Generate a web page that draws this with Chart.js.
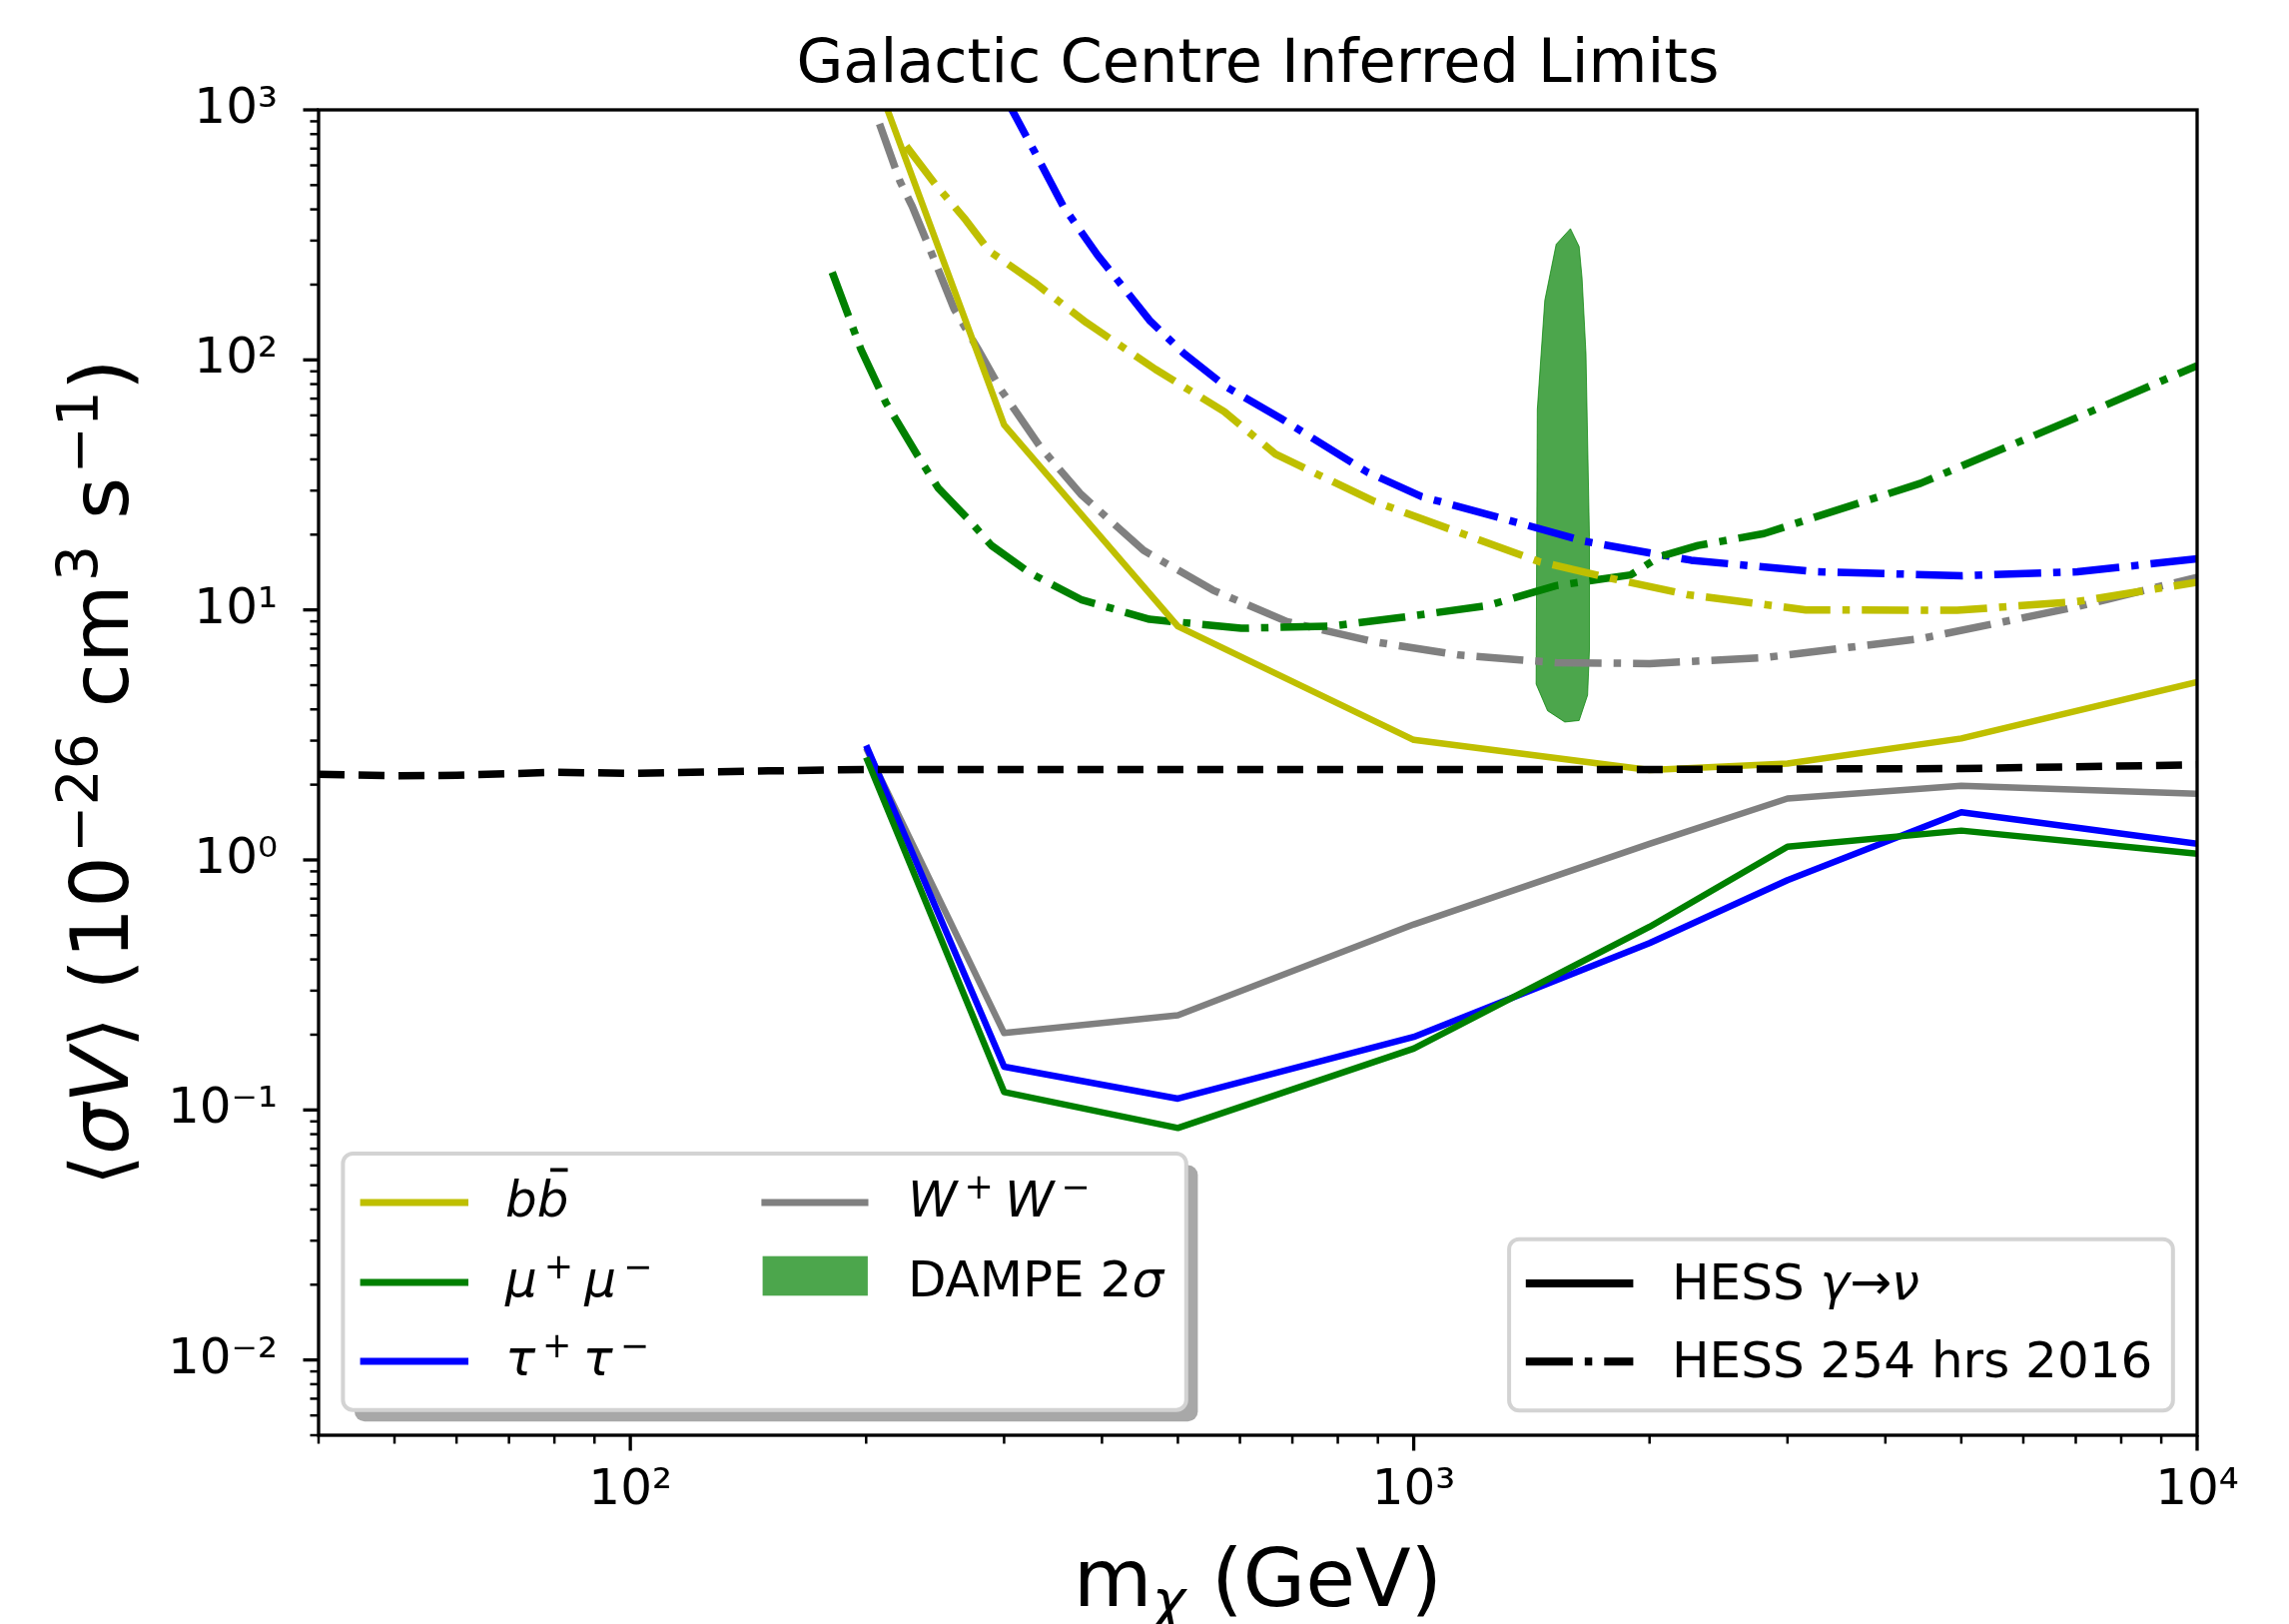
<!DOCTYPE html>
<html>
<head>
<meta charset="utf-8">
<title>Galactic Centre Inferred Limits</title>
<script src="https://cdn.jsdelivr.net/npm/chart.js@4.4.0/dist/chart.umd.min.js"></script>
<style>
  html, body { margin: 0; padding: 0; background: #fff; }
  #wrap { width: 2292px; height: 1626px; }
</style>
</head>
<body>
<div id="wrap"><canvas id="limits" width="2292" height="1626" style="width:2292px;height:1626px"></canvas></div>
<script>
const FONT = '"DejaVu Sans", sans-serif';

// HESS gamma -> nu inferred limits (solid lines)
const massHess = [200, 300, 500, 1000, 2000, 3000, 5000, 10000];
const bbHess = [1700, 55, 8.6, 3.02, 2.29, 2.43, 3.06, 5.15];
const mumuHess = [2.57, 0.118, 0.0847, 0.176, 0.54, 1.13, 1.31, 1.06];
const tautauHess = [2.87, 0.149, 0.111, 0.196, 0.465, 0.83, 1.55, 1.16];
const wwHess = [2.8, 0.203, 0.239, 0.552, 1.16, 1.76, 1.98, 1.84];

// HESS 254 hrs 2016 (dash-dot lines)
const bb2016Mass = [225, 245, 268, 287, 328, 382, 468, 573, 666, 887, 1006, 1445, 1799, 2239, 3167, 4940, 7030, 10000];
const bb2016 = [716, 505, 363, 273, 204, 141, 91.7, 62.1, 42, 27.3, 23.6, 15.6, 13.3, 11.5, 10.0, 9.96, 10.8, 12.9];

const mumu2016Mass = [181, 197, 212, 233, 247, 273, 289, 323, 376, 460, 602, 788, 957, 1242, 1520, 1892, 2058, 2307, 2800, 4437, 7032, 10000];
const mumu2016 = [224, 110, 67.3, 41.1, 30.8, 22.2, 18.1, 14.1, 11.0, 9.17, 8.44, 8.62, 9.3, 10.4, 12.5, 13.8, 16.3, 18.1, 20.2, 32.1, 58.9, 94.8];

const tautau2016Mass = [300, 311, 331, 357, 395, 430, 460, 509, 577, 677, 872, 1023, 1306, 1654, 2259, 3265, 5017, 7030, 10000];
const tautau2016 = [1145, 929, 646, 411, 262, 188, 144, 106, 77.8, 58.3, 35.6, 28.4, 23.1, 18.8, 15.8, 14.2, 13.7, 14.2, 16.0];

const ww2016Mass = [208, 221, 229, 243, 259, 278, 297, 334, 376, 452, 554, 689, 887, 1142, 1520, 2000, 2800, 4437, 7030, 10000];
const ww2016 = [880, 516, 411, 262, 160, 110, 76.2, 44.7, 29.0, 17.3, 12.0, 8.98, 7.47, 6.6, 6.15, 6.1, 6.44, 7.67, 10.3, 13.5];

// thermal relic cross-section (black dashed)
const relicMass = [40, 50, 60, 80, 100, 150, 200, 500, 1000, 2000, 5000, 10000];
const relic = [2.2, 2.17, 2.18, 2.24, 2.22, 2.27, 2.3, 2.3, 2.3, 2.3, 2.32, 2.4];

// DAMPE 2 sigma region (closed outline)
const dampeMass = [1585, 1520, 1470, 1438, 1433, 1482, 1559, 1626, 1667, 1676, 1676, 1659, 1640, 1626, 1585];
const dampe = [335, 290, 173, 63.3, 5.05, 3.95, 3.56, 3.61, 4.56, 6.9, 19.6, 106, 213, 284, 335];

// axis ticks
const xMajor = [100, 1000, 10000];
const yMajor = [0.01, 0.1, 1, 10, 100, 1000];
const xTicks = [40, 50, 60, 70, 80, 90];
[100, 1000].forEach(d => { for (let k = 1; k < 10; k++) xTicks.push(k * d); });
xTicks.push(10000);
const yTicks = [0.005, 0.006, 0.007, 0.008, 0.009];
[0.01, 0.1, 1, 10, 100].forEach(d => { for (let k = 1; k < 10; k++) yTicks.push(k * d); });
yTicks.push(1000);

const YELLOW = '#bfbf00', GREEN = '#008000', BLUE = '#0000ff', GREY = '#808080';
const DASHDOT = [47, 12, 7.5, 12];
const DASHED = [26, 14];

function pts(xs, ys) { return xs.map((m, i) => ({x: m, y: ys[i]})); }
function curve(label, xs, ys, color, dash, width, order) {
  return {
    label, data: pts(xs, ys), showLine: true, borderColor: color, borderWidth: width,
    borderDash: dash, pointRadius: 0, fill: false, tension: 0,
    borderJoinStyle: 'round', order
  };
}

const isMajor = v => Math.abs(Math.log10(v) - Math.round(Math.log10(v))) < 1e-6;
const SUP = {'-': '\u207B', '0': '\u2070', '1': '\u00B9', '2': '\u00B2', '3': '\u00B3', '4': '\u2074'};
const tickLabel = v => isMajor(v) ? '10' + String(Math.round(Math.log10(v))).split('').map(c => SUP[c]).join('') : '';

function roundRect(ctx, x, y, w, h, r) {
  ctx.beginPath();
  ctx.moveTo(x + r, y);
  ctx.arcTo(x + w, y, x + w, y + h, r);
  ctx.arcTo(x + w, y + h, x, y + h, r);
  ctx.arcTo(x, y + h, x, y, r);
  ctx.arcTo(x, y, x + w, y, r);
  ctx.closePath();
}

// mixed text with italic / super / subscripts, drawn at baseline y
function drawRich(ctx, parts, x, y, size, align) {
  const items = parts.map(p => {
    const s = (p.sup || p.sub) ? size * 0.7 : size;
    const font = (p.it ? 'italic ' : '') + s + 'px ' + FONT;
    ctx.font = font;
    const gap = p.sup ? (p.gap || 0) * size : 0;
    return {p, font, gap, w: ctx.measureText(p.t).width + gap, dy: p.sup ? -0.37 * size : (p.sub ? 0.17 * size : 0)};
  });
  const total = items.reduce((a, b) => a + b.w, 0);
  let cx = align === 'center' ? x - total / 2 : x;
  ctx.textAlign = 'left';
  ctx.textBaseline = 'alphabetic';
  items.forEach(it => {
    ctx.font = it.font;
    ctx.fillText(it.p.t, cx + it.gap, y + it.dy);
    if (it.p.bar) ctx.fillRect(cx + it.w * 0.42, y - 0.97 * size, it.w * 0.55, size * 0.075);
    cx += it.w;
  });
  return total;
}

function handle(ctx, x0, x1, y, color, dash, width) {
  ctx.save();
  ctx.strokeStyle = color;
  ctx.lineWidth = width;
  ctx.lineCap = 'butt';
  ctx.setLineDash(dash);
  ctx.beginPath();
  ctx.moveTo(x0, y);
  ctx.lineTo(x1, y);
  ctx.stroke();
  ctx.restore();
}

const pair = (sym) => [
  {t: sym, it: 1}, {t: '+', sup: 1, gap: 0.14}, {t: ' ', sup: 1},
  {t: sym, it: 1}, {t: '\u2212', sup: 1, gap: 0.14}
];

const decorations = {
  id: 'decorations',
  afterDraw(chart) {
    const {ctx, chartArea: a, scales: {x, y}} = chart;
    ctx.save();
    ctx.fillStyle = '#000';
    ctx.strokeStyle = '#000';

    // frame
    ctx.lineWidth = 3.3;
    ctx.strokeRect(a.left, a.top, a.right - a.left, a.bottom - a.top);

    // outward tick marks
    xTicks.forEach(v => {
      const px = x.getPixelForValue(v), major = isMajor(v);
      ctx.lineWidth = major ? 3.3 : 2.5;
      ctx.beginPath();
      ctx.moveTo(px, a.bottom);
      ctx.lineTo(px, a.bottom + (major ? 15.5 : 8.5));
      ctx.stroke();
    });
    yTicks.forEach(v => {
      const py = y.getPixelForValue(v), major = isMajor(v);
      ctx.lineWidth = major ? 3.3 : 2.5;
      ctx.beginPath();
      ctx.moveTo(a.left, py);
      ctx.lineTo(a.left - (major ? 15.5 : 8.5), py);
      ctx.stroke();
    });

    const cx = (a.left + a.right) / 2;
    const cy = (a.top + a.bottom) / 2;

    // title
    ctx.font = '60.5px ' + FONT;
    ctx.textAlign = 'center';
    ctx.textBaseline = 'alphabetic';
    ctx.fillText('Galactic Centre Inferred Limits', cx, 82);

    // axis titles
    drawRich(ctx, [{t: 'm'}, {t: '\u03C7', it: 1, sub: 1}, {t: ' (GeV)'}], cx, 1608, 81, 'center');
    ctx.save();
    ctx.translate(128, cy);
    ctx.rotate(-Math.PI / 2);
    drawRich(ctx, [
      {t: '\u27E8'}, {t: '\u03C3V', it: 1}, {t: '\u27E9 (10'}, {t: '\u2212' + '26', sup: 1, gap: 0.04},
      {t: ' cm'}, {t: '3', sup: 1, gap: 0.04}, {t: ' s'}, {t: '\u2212' + '1', sup: 1, gap: 0.04}, {t: ')'}
    ], 0, 0, 81, 'center');
    ctx.restore();

    // left legend (channels), with shadow
    const ds = chart.data.datasets;
    roundRect(ctx, 355, 1166.5, 844.4, 256.7, 10);
    ctx.fillStyle = '#a8a8a8';
    ctx.fill();
    roundRect(ctx, 343.4, 1155, 844.4, 256.7, 10);
    ctx.fillStyle = '#fff';
    ctx.fill();
    ctx.lineWidth = 4;
    ctx.strokeStyle = '#d3d3d3';
    ctx.stroke();

    const rows = [1204, 1284, 1363];
    const left = [
      {ds: ds[1], parts: [{t: 'b', it: 1}, {t: 'b', it: 1, bar: 1}]},
      {ds: ds[2], parts: pair('\u03BC')},
      {ds: ds[3], parts: pair('\u03C4')}
    ];
    left.forEach((e, i) => {
      handle(ctx, 360.6, 469, rows[i], e.ds.borderColor, [], 7);
      ctx.fillStyle = '#000';
      drawRich(ctx, e.parts, 506, rows[i] + 14, 50);
    });
    handle(ctx, 762.4, 869.5, rows[0], ds[4].borderColor, [], 7);
    ctx.fillStyle = '#000';
    drawRich(ctx, pair('W'), 909, rows[0] + 14, 50);
    const dampeSet = ds[ds.length - 1];
    ctx.fillStyle = dampeSet.backgroundColor;
    ctx.fillRect(763.6, 1257.7, 105.3, 39.6);
    ctx.fillStyle = '#000';
    drawRich(ctx, [{t: 'DAMPE 2'}, {t: '\u03C3', it: 1}], 909, rows[1] + 14, 50);

    // right legend (line styles)
    roundRect(ctx, 1511.1, 1240.7, 664.7, 171.6, 10);
    ctx.fillStyle = '#fff';
    ctx.fill();
    ctx.lineWidth = 4;
    ctx.strokeStyle = '#d3d3d3';
    ctx.stroke();
    handle(ctx, 1527.8, 1635.4, 1285, '#000', [], 8);
    handle(ctx, 1527.8, 1635.4, 1363.3, '#000', DASHDOT, 8);
    ctx.fillStyle = '#000';
    drawRich(ctx, [{t: 'HESS '}, {t: '\u03B3', it: 1}, {t: '\u2192'}, {t: '\u03BD', it: 1}], 1674, 1300.5, 50);
    drawRich(ctx, [{t: 'HESS 254 hrs 2016'}], 1674, 1379, 50);

    ctx.restore();
  }
};

const datasets = [
  curve('relic', relicMass, relic, '#000', DASHED, 7.5, 0),
  curve('bb HESS', massHess, bbHess, YELLOW, [], 6.5, 1),
  curve('mumu HESS', massHess, mumuHess, GREEN, [], 6.5, 1),
  curve('tautau HESS', massHess, tautauHess, BLUE, [], 6.5, 1),
  curve('WW HESS', massHess, wwHess, GREY, [], 6.5, 1),
  curve('bb 2016', bb2016Mass, bb2016, YELLOW, DASHDOT, 7.5, 2),
  curve('mumu 2016', mumu2016Mass, mumu2016, GREEN, DASHDOT, 7.5, 2),
  curve('tautau 2016', tautau2016Mass, tautau2016, BLUE, DASHDOT, 7.5, 2),
  curve('WW 2016', ww2016Mass, ww2016, GREY, DASHDOT, 7.5, 2),
  {
    label: 'DAMPE 2\u03C3', data: pts(dampeMass, dampe), showLine: true,
    borderColor: 'rgba(0,128,0,0.7)', borderWidth: 1, backgroundColor: 'rgba(0,128,0,0.7)',
    fill: 'shape', pointRadius: 0, tension: 0, order: 10
  }
];

const tickFont = {family: FONT, size: 50};

new Chart(document.getElementById('limits'), {
  type: 'scatter',
  data: {datasets},
  options: {
    responsive: false,
    animation: false,
    devicePixelRatio: 1,
    layout: {padding: {left: 0, right: 92, top: 110, bottom: 0}},
    plugins: {legend: {display: false}, tooltip: {enabled: false}, title: {display: false}},
    scales: {
      x: {
        type: 'logarithmic', min: 40, max: 10000,
        grid: {display: false, drawTicks: false}, border: {display: false},
        afterBuildTicks: s => { s.ticks = xTicks.map(v => ({value: v, major: isMajor(v)})); },
        afterFit: s => { s.height = 189; },
        ticks: {autoSkip: false, maxRotation: 0, padding: 26, color: '#000', font: tickFont, callback: v => tickLabel(v)}
      },
      y: {
        type: 'logarithmic', min: 0.005, max: 1000,
        grid: {display: false, drawTicks: false}, border: {display: false},
        afterBuildTicks: s => { s.ticks = yTicks.map(v => ({value: v, major: isMajor(v)})); },
        afterFit: s => { s.width = 319; },
        ticks: {autoSkip: false, padding: 41, color: '#000', font: tickFont, callback: v => tickLabel(v)}
      }
    }
  },
  plugins: [decorations]
});
</script>
</body>
</html>
